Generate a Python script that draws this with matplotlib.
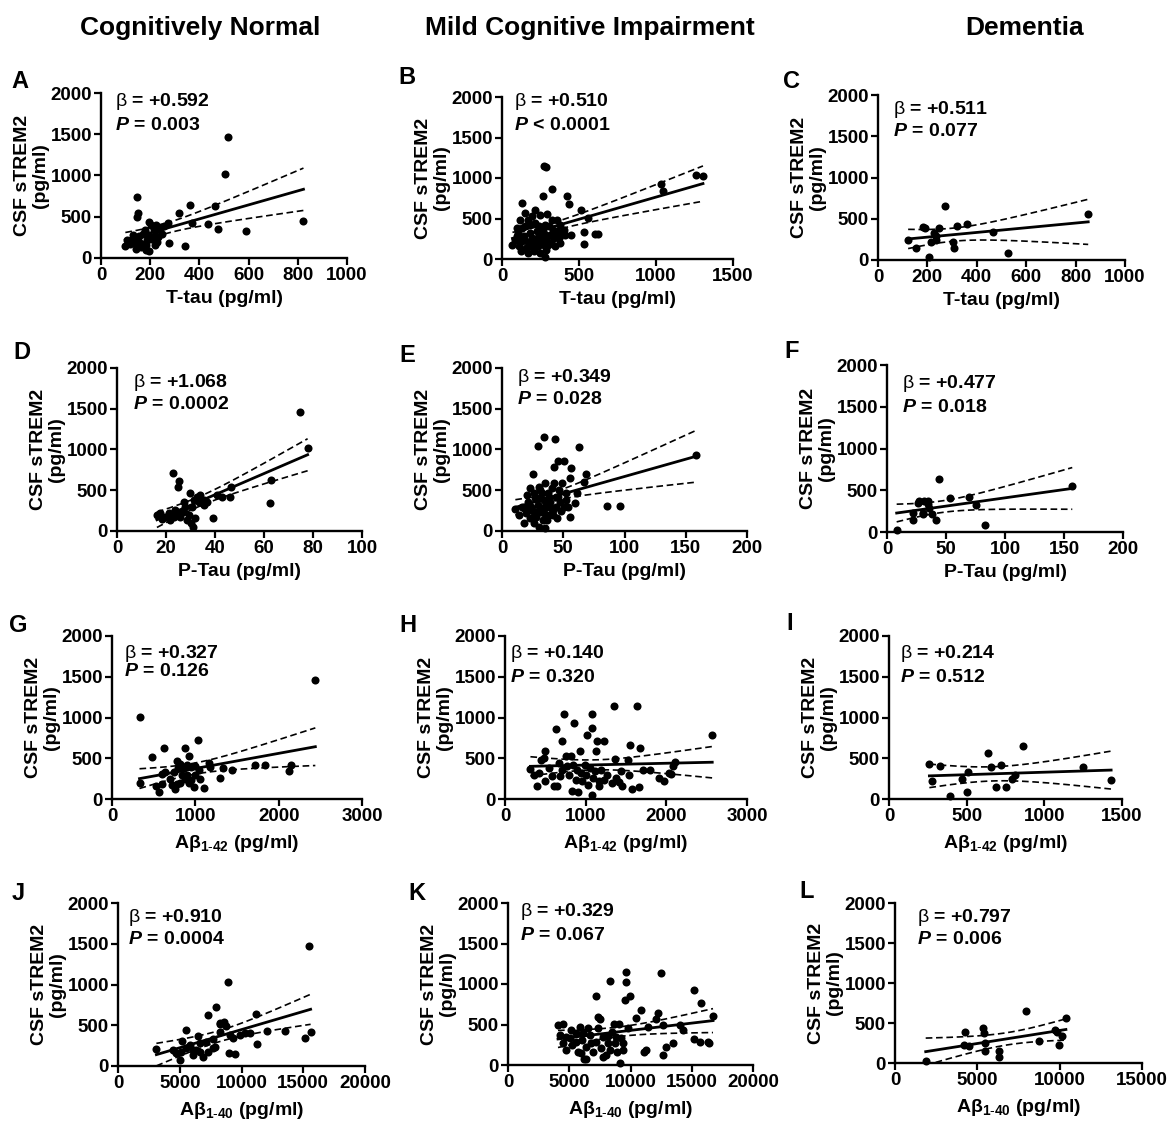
import numpy as np
import matplotlib
matplotlib.use("Agg")
import matplotlib.pyplot as plt

plt.rcParams['font.family'] = ['Liberation Sans', 'DejaVu Sans']
plt.rcParams['mathtext.fontset'] = 'custom'
plt.rcParams['mathtext.rm'] = 'Liberation Sans'
plt.rcParams['mathtext.it'] = 'Liberation Sans:italic:bold'
plt.rcParams['mathtext.bf'] = 'Liberation Sans:bold'

W, H = 1170, 1121

# datos (x = biomarcador, y = sTREM2 en pg/ml)
A_x = [517, 506, 146, 152, 147, 363, 463, 316, 369, 435, 476, 588, 823, 341, 275, 272, 99, 106, 122, 136,
       143, 156, 163, 173, 184, 197, 186, 193, 195, 204, 214, 224, 235, 245, 258, 218, 227, 218, 170, 154,
       129, 180, 204, 248, 116, 143, 184, 231]
A_y = [1465, 1022, 734, 540, 491, 637, 633, 540, 426, 410, 353, 329, 446, 146, 183, 430, 142, 223, 215, 235,
       174, 195, 134, 166, 101, 85, 215, 276, 438, 398, 357, 398, 357, 377, 385, 276, 195, 154, 296, 264,
       276, 337, 235, 296, 166, 114, 154, 256]

B_x = [275, 285, 325, 264, 423, 434, 129, 510, 558, 532, 534, 604, 625, 1033, 1044, 1262, 1305, 346, 281, 298,
       357, 379, 401, 216, 216, 248, 150, 172, 118, 194, 292, 325, 96, 68, 85, 107, 111, 124, 133, 146,
       155, 168, 172, 183, 190, 198, 205, 216, 227, 233, 242, 248, 255, 264, 270, 277, 285, 294, 303, 312,
       320, 329, 338, 346, 357, 368, 379, 390, 412, 445, 150, 183, 238, 281, 129, 96]
B_y = [1150, 1135, 864, 782, 782, 683, 691, 601, 506, 329, 185, 313, 313, 926, 844, 1033, 1029, 280, 21, 169,
       486, 424, 362, 444, 609, 547, 568, 486, 486, 527, 560, 486, 280, 177, 239, 321, 156, 95, 218, 280,
       136, 206, 74, 321, 156, 259, 95, 218, 342, 156, 280, 74, 218, 362, 177, 280, 115, 218, 403, 300,
       198, 362, 259, 156, 342, 259, 198, 321, 300, 300, 403, 424, 403, 424, 383, 383]

C_x = [273, 851, 466, 527, 207, 122, 153, 182, 189, 247, 236, 236, 216, 304, 307, 320, 361, 226]
C_y = [656, 562, 336, 82, 33, 238, 144, 398, 390, 390, 287, 246, 213, 213, 144, 418, 431, 328]

D_x = [74.5, 77.8, 22.8, 25.2, 24.8, 62.3, 62.8, 46, 46.5, 39.2, 43, 41, 29.6, 17.7, 18.4, 19.7, 21.1, 21.8,
       23.1, 24.5, 25.8, 26.9, 27.5, 27.9, 28.6, 29.2, 30.2, 31.0, 32.0, 32.6, 33.3, 34, 34.7, 35.6, 36.7,
       30.6, 31.6, 16.3, 23.8, 35.4]
D_y = [1460, 1017, 717, 615, 537, 340, 627, 422, 537, 164, 422, 443, 463, 217, 143, 176, 217, 135,
       176, 217, 168, 238, 361, 299, 135, 197, 102, 53, 156, 422, 361, 443, 340, 381, 361,
       299, 381, 197, 258, 320]

E_x = [34.6, 43, 29.4, 62.6, 45.7, 50.3, 42.2, 56.3, 25.3, 55.2, 68.3, 66.7, 158.6, 85.7, 96, 55.8, 35.4,
       59.9, 61.2, 10.9, 13.6, 16.3, 17.7, 19.9, 20.9, 22.6, 23.1, 24.5, 25.9, 27.2, 28, 29.1, 30.2, 31.3,
       32.7, 33.5, 34, 34.8, 36.2, 37.3, 38.1, 39.5, 40.8, 41.6, 42.7, 43.8, 44.9, 46.3, 47.6, 49, 50.3,
       52.5, 31.3, 25.9, 20.4, 36.7, 29.9, 20, 24, 28, 32, 36, 40, 44, 48, 30, 38, 26, 34, 42, 22, 46, 18,
       52, 54]
E_y = [1148, 1132, 1037, 1033, 853, 861, 791, 779, 701, 656, 697, 607, 935, 312, 312, 168, 33,
       340, 463, 266, 197, 299, 94, 217, 361, 156, 525, 258, 94, 402, 176, 320, 545, 238,
       463, 135, 381, 594, 299, 463, 197, 361, 525, 258, 586, 422, 156, 504, 361, 586, 299,
       463, 504, 463, 443, 135, 53, 250, 300, 230, 280, 330, 280, 300, 250, 400, 420, 180, 220, 200, 320,
       420, 280, 380, 300]

F_x = [44.1, 157, 8.2, 21.8, 21.8, 27.4, 31.6, 34.5, 30.2, 35.9, 38.1, 41.5, 30.8, 53.4, 69.2, 75.4, 83.3,
       34.5, 26.3]
F_y = [636, 555, 28, 138, 231, 373, 373, 373, 231, 292, 211, 138, 219, 413, 421, 324, 81, 332, 352]

G_x = [2440, 330, 330, 1030, 620, 870, 920, 480, 1160, 1330, 1440, 1710, 1830, 2150, 2120, 1300, 1100, 560,
       600, 640, 780, 820, 860, 900, 950, 1000, 1050, 980, 760, 780, 820, 700, 740, 1000, 880, 920, 600,
       530, 900, 1180, 790, 840, 950, 1040, 720]
G_y = [1460, 1010, 200, 720, 630, 625, 530, 520, 440, 380, 360, 420, 420, 420, 340, 260, 130, 80,
       310, 330, 470, 430, 380, 300, 390, 300, 250, 150, 120, 180, 200, 250, 330, 400, 240, 200, 180,
       160, 420, 390, 380, 290, 230, 350, 170]

H_x = [315, 365, 502, 452, 481, 502, 627, 647, 701, 730, 751, 814, 834, 909, 855, 930, 1012, 1075, 1083, 1133,
       1145, 1075, 1228, 1365, 1456, 1519, 1540, 1548, 1573, 1656, 1672, 1706, 1801, 1913, 1975, 2029, 2079,
       2112, 2058, 2569, 1353, 1631, 398, 419, 544, 577, 606, 668, 676, 710, 772, 793, 843, 876, 896, 938,
       959, 992, 1008, 1033, 1050, 1091, 1116, 1166, 1187, 1228, 1270, 1324, 1374, 1419, 1440, 1166]
H_y = [367, 298, 216, 481, 502, 583, 857, 155, 706, 1040, 522, 522, 94, 82, 938, 592, 787, 1044, 869, 592,
       706, 45, 706, 490, 155, 481, 298, 657, 122, 147, 624, 359, 359, 257, 216, 318, 400,
       449, 306, 787, 1142, 1142, 155, 318, 379, 277, 155, 441, 277, 359, 400, 298, 420, 237, 359, 318,
       216, 420, 298, 175, 379, 257, 339, 216, 359, 237, 298, 196, 257, 204, 339, 155]

I_x = [260, 280, 330, 390, 470, 500, 510, 640, 655, 690, 720, 755, 790, 810, 860, 1250, 1430]
I_y = [430, 220, 408, 40, 245, 82, 335, 567, 388, 151, 416, 151, 245, 294, 653, 388, 233]

J_x = [15488, 8920, 7974, 7297, 8298, 8568, 8244, 11163, 5487, 5217, 3108, 9001, 9460, 13515, 12028, 11217,
       15137, 15596, 10677, 9866, 9055, 7703, 7163, 7839, 8244, 6622, 6352, 6082, 5000, 4460, 4730, 5136,
       5541, 6082, 6622, 6893, 7297, 7703, 5811, 9325, 6487, 8730, 10271]
J_y = [1468, 1025, 730, 627, 525, 545, 517, 640, 439, 312, 209, 156, 143, 435, 435, 271,
       349, 422, 402, 381, 381, 328, 299, 238, 422, 279, 197, 135, 74, 197, 164, 176,
       217, 197, 176, 115, 176, 217, 258, 340, 369, 492, 402]

K_x = [9660, 9660, 12517, 8299, 7211, 9932, 9524, 15156, 15727, 7347, 7483, 10476, 10884, 12245, 12109, 16734,
       15156, 15646, 16326, 16408, 9115, 6394, 6204, 14013, 13469, 12653, 11074, 11292, 9796, 9034, 8626,
       8163, 11428, 12653, 12925, 14285, 9388, 4082, 4490, 4272, 4490, 4762, 5034, 5252, 5524, 5714, 5850,
       6068, 6394, 6667, 6939, 7157, 7347, 7619, 7755, 7973, 8163, 8354, 8517, 8707, 8898, 9252, 9388,
       5170, 6122, 6803, 4762, 5578, 5986, 6530, 7755, 8843]
K_y = [1148, 1025, 1136, 1033, 849, 853, 800, 931, 767, 595, 574, 582, 685, 644, 574, 607,
       316, 287, 287, 266, 20, 70, 78, 492, 275, 123, 164, 185, 451, 512, 504,
       357, 472, 492, 226, 430, 266, 492, 512, 369, 266, 185, 328, 246, 390, 164, 463,
       308, 226, 369, 164, 287, 451, 205, 349, 123, 266, 185, 410, 266, 164, 328, 185,
       430, 390, 266, 349, 287, 144, 451, 103, 349]

L_x = [1865, 4257, 4196, 4520, 5372, 5412, 5473, 5493, 6344, 6324, 7966, 8716, 9730, 9831, 10135, 9933, 10378]
L_y = [29, 392, 227, 207, 434, 372, 256, 145, 145, 74, 653, 281, 413, 392, 339, 227, 566]

betas = ["+0.592", "+0.510", "+0.511", "+1.068", "+0.349", "+0.477",
         "+0.327", "+0.140", "+0.214", "+0.910", "+0.329", "+0.797"]
pvals = ["= 0.003", "< 0.0001", "= 0.077", "= 0.0002", "= 0.028", "= 0.018",
         "= 0.126", "= 0.320", "= 0.512", "= 0.0004", "= 0.067", "= 0.006"]

columnas = ["Cognitively Normal", "Mild Cognitive Impairment", "Dementia"]
ab42 = "Aβ$_{\\mathbf{1\\text{-}42}}$ (pg/ml)"
ab40 = "Aβ$_{\\mathbf{1\\text{-}40}}$ (pg/ml)"
etiquetas_x = ["T-tau (pg/ml)", "P-Tau (pg/ml)", ab42, ab40]

ejes_x = [  # (max, paso) por panel
    (1000, 200), (1500, 500), (1000, 200),
    (100, 20), (200, 50), (200, 50),
    (3000, 1000), (3000, 1000), (1500, 500),
    (20000, 5000), (20000, 5000), (15000, 5000),
]

# cajas en pixeles: izquierda, arriba, ancho, alto
cajas = [
    (101, 93, 246, 165), (502, 97, 231, 162), (878, 95, 247, 165),
    (117, 368, 245, 163), (502, 368, 245, 163), (887, 365, 236, 167),
    (112, 636, 250, 163), (505, 636, 242, 163), (889, 636, 233, 163),
    (118, 903, 247, 163), (508, 903, 245, 162), (895, 903, 247, 160),
]
letras_pos = [(20, 82), (407, 78), (792, 82), (22, 353), (407, 355), (792, 352),
              (18, 625), (408, 625), (790, 623), (18, 893), (417, 893), (807, 892)]
# desplazamiento del texto beta/P respecto a la esquina superior izquierda
texto_off = [(14, 9, 32), (12, 4, 28), (15, 15, 37), (16, 14, 37), (15, 10, 32), (15, 18, 42),
             (12, 17, 36), (5, 17, 41), (11, 17, 41), (10, 15, 37), (12, 9, 32), (22, 14, 37)]

datos = [(A_x, A_y), (B_x, B_y), (C_x, C_y), (D_x, D_y), (E_x, E_y), (F_x, F_y),
         (G_x, G_y), (H_x, H_y), (I_x, I_y), (J_x, J_y), (K_x, K_y), (L_x, L_y)]


def px(x, y):
    return x / W, 1 - y / H


def regresion(ax, x, y):
    x = np.asarray(x, float)
    y = np.asarray(y, float)
    n = len(x)
    b, a = np.polyfit(x, y, 1)
    xs = np.linspace(x.min(), x.max(), 200)
    yh = a + b * xs
    res = y - (a + b * x)
    s = np.sqrt(np.sum(res ** 2) / (n - 2))
    sxx = np.sum((x - x.mean()) ** 2)
    df = n - 2
    t = 1.96 + 2.4 / df + 2.9 / df ** 2
    se = s * np.sqrt(1 / n + (xs - x.mean()) ** 2 / sxx)
    ax.plot(xs, yh, color='k', lw=2.0, zorder=4)
    ax.plot(xs, yh + t * se, color='k', lw=1.2, dashes=(4, 2.2), zorder=4)
    ax.plot(xs, yh - t * se, color='k', lw=1.2, dashes=(4, 2.2), zorder=4)


fig = plt.figure(figsize=(W / 100, H / 100), dpi=100)

for i, titulo in enumerate(columnas):
    cx = [200, 590, 1025][i]
    fig.text(*px(cx, 28), titulo, ha='center', va='center', fontsize=19, fontweight='bold')

for k in range(12):
    l, t, w, h = cajas[k]
    ax = fig.add_axes([l / W, 1 - (t + h) / H, w / W, h / H])
    x, y = datos[k]
    xmax, paso = ejes_x[k]

    ax.plot(x, y, 'o', color='k', ms=5.8, mew=0, clip_on=False, zorder=5)
    regresion(ax, x, y)

    ax.set_xlim(0, xmax)
    ax.set_ylim(0, 2000)
    xt = np.arange(0, xmax + 1, paso)
    ax.set_xticks(xt)
    ax.set_xticklabels([str(v) for v in xt], fontweight='bold')
    yt = [0, 500, 1000, 1500, 2000]
    ax.set_yticks(yt)
    ax.set_yticklabels([str(v) for v in yt], fontweight='bold')
    for lado in ['top', 'right']:
        ax.spines[lado].set_visible(False)
    for lado in ['left', 'bottom']:
        ax.spines[lado].set_linewidth(1.7)
    ax.tick_params(direction='out', length=5, width=1.6, pad=1.5, labelsize=13.5)
    ax.set_ylabel("CSF sTREM2\n(pg/ml)", fontsize=14, fontweight='bold', labelpad=1, linespacing=1.1)
    ax.set_xlabel(etiquetas_x[k // 3], fontsize=14, fontweight='bold',
                  labelpad=4 if k < 6 else 6)

    lx, ly = letras_pos[k]
    fig.text(*px(lx, ly), "ABCDEFGHIJKL"[k], ha='center', va='center', fontsize=17, fontweight='bold')

    dx, dy1, dy2 = texto_off[k]
    fig.text(*px(l + dx, t + dy1), r"$\mathrm{\beta}$ = " + betas[k], ha='left', va='center',
             fontsize=14, fontweight='bold')
    fig.text(*px(l + dx, t + dy2), r"$\mathit{P}$ " + pvals[k], ha='left', va='center',
             fontsize=14, fontweight='bold')

fig.savefig("out.png", dpi=100)
